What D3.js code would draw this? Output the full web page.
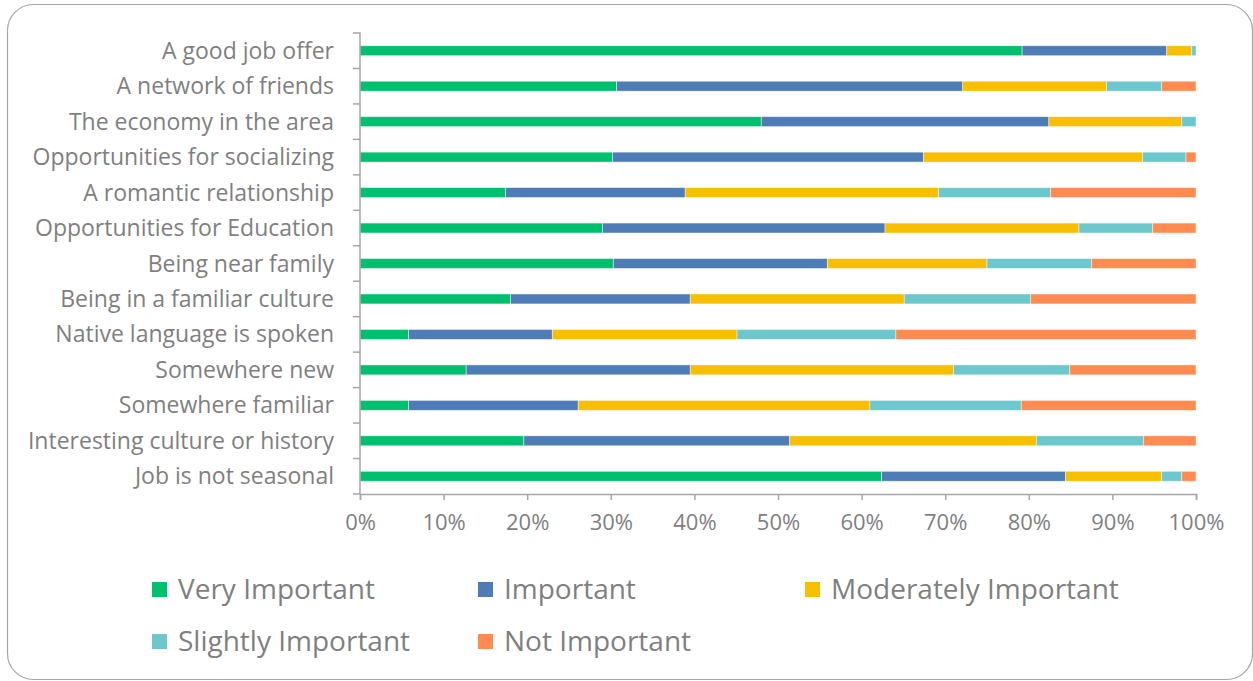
<!DOCTYPE html>
<html lang="en">
<head>
<meta charset="utf-8">
<title>Importance of factors</title>
<style>
  body { margin: 0; background: #fff; }
  text { font-family: "Open Sans", "Noto Sans", sans-serif; fill: #7f7f7f; }
</style>
</head>
<body>
<div id="chart"></div>
<script src="https://cdnjs.cloudflare.com/ajax/libs/d3/7.8.5/d3.min.js"></script>
<script>
// categories, top to bottom
var categories = ["A good job offer", "A network of friends", "The economy in the area",
                  "Opportunities for socializing", "A romantic relationship", "Opportunities for Education",
                  "Being near family", "Being in a familiar culture", "Native language is spoken",
                  "Somewhere new", "Somewhere familiar", "Interesting culture or history", "Job is not seasonal"];

var seriesNames = ["Very Important", "Important", "Moderately Important", "Slightly Important", "Not Important"];
var seriesColors = ["#00bf6f", "#4e7cb6", "#f8be00", "#6cc8cc", "#ff8b51"];

// percentages per category, same order as categories
var veryImportant     = [79.2, 30.7, 48.0, 30.2, 17.4, 29.0, 30.3, 18.0,  5.8, 12.7,  5.8, 19.6, 62.4];
var important         = [17.3, 41.4, 34.4, 37.2, 21.5, 33.8, 25.6, 21.5, 17.2, 26.8, 20.3, 31.8, 22.0];
var moderatelyImp     = [ 3.0, 17.2, 15.9, 26.2, 30.3, 23.2, 19.1, 25.6, 22.1, 31.5, 34.9, 29.5, 11.5];
var slightlyImportant = [ 0.5,  6.6,  1.7,  5.2, 13.4,  8.8, 12.5, 15.1, 19.0, 13.9, 18.1, 12.8,  2.4];
var notImportant      = [ 0.0,  4.1,  0.0,  1.2, 17.4,  5.2, 12.5, 19.8, 35.9, 15.1, 20.9,  6.3,  1.7];

var tickValues = [0, 0.1, 0.2, 0.3, 0.4, 0.5, 0.6, 0.7, 0.8, 0.9, 1.0];

var width = 1253, height = 681;
var plotLeft = 360, plotRight = 1196, plotTop = 33, plotBottom = 494;

var svg = d3.select("#chart").append("svg")
    .attr("width", width)
    .attr("height", height);

// outer frame
svg.append("rect")
    .attr("x", 7.5).attr("y", 4.5)
    .attr("width", 1245).attr("height", 675)
    .attr("rx", 26).attr("ry", 26)
    .attr("fill", "none")
    .attr("stroke", "#a6a6a6")
    .attr("stroke-width", 1.2);

var table = categories.map(function(c, i) {
    return { cat: c,
             "Very Important": veryImportant[i],
             "Important": important[i],
             "Moderately Important": moderatelyImp[i],
             "Slightly Important": slightlyImportant[i],
             "Not Important": notImportant[i] };
});

// normalise each row to 100%
var stack = d3.stack().keys(seriesNames).offset(d3.stackOffsetExpand);
var layers = stack(table);

var x = d3.scaleLinear().domain([0, 1]).range([plotLeft, plotRight]);
var y = d3.scaleBand().domain(categories).range([plotTop, plotBottom]).paddingInner(0.72).paddingOuter(0.36);
var color = d3.scaleOrdinal().domain(seriesNames).range(seriesColors);

svg.append("g").selectAll("g")
    .data(layers)
    .enter().append("g")
    .attr("fill", function(d) { return color(d.key); })
    .selectAll("rect")
    .data(function(d) { return d; })
    .enter().append("rect")
    .attr("x", function(d) { return x(d[0]); })
    .attr("y", function(d) { return y(d.data.cat); })
    .attr("width", function(d) { return Math.max(0, x(d[1]) - x(d[0])); })
    .attr("height", y.bandwidth())
    .attr("stroke", "#ffffff")
    .attr("stroke-opacity", 0.6)
    .attr("stroke-width", 0.75);

// y axis
var yAxisScale = d3.scaleBand().domain(categories).range([plotTop, plotBottom]);
var yAxis = svg.append("g")
    .attr("transform", "translate(" + plotLeft + ",0)")
    .call(d3.axisLeft(y).tickSize(0).tickPadding(26));
yAxis.select(".domain").attr("stroke", "#a6a6a6").attr("stroke-width", 1.5)
    .attr("d", "M-7," + plotTop + "H0V" + plotBottom + "H-7");
yAxis.selectAll("text")
    .attr("font-size", "23px")
    .attr("fill", "#7f7f7f")
    .attr("dy", "0.35em");
// category separators
svg.append("g").selectAll("line")
    .data(categories.slice(1))
    .enter().append("line")
    .attr("x1", plotLeft - 7).attr("x2", plotLeft)
    .attr("y1", function(d) { return yAxisScale(d); })
    .attr("y2", function(d) { return yAxisScale(d); })
    .attr("stroke", "#a6a6a6").attr("stroke-width", 1.5);

// x axis
var xAxis = svg.append("g")
    .attr("transform", "translate(0," + plotBottom + ")")
    .call(d3.axisBottom(x).tickValues(tickValues).tickFormat(d3.format(".0%")).tickSize(6).tickSizeOuter(6).tickPadding(14));
xAxis.select(".domain").attr("stroke", "#a6a6a6").attr("stroke-width", 1.5);
xAxis.selectAll(".tick line").attr("stroke", "#a6a6a6").attr("stroke-width", 1.5);
xAxis.selectAll("text")
    .attr("font-size", "22px")
    .attr("fill", "#7f7f7f");

// legend
var legendPos = [[152, 589], [478, 589], [805, 589], [152, 641], [478, 641]];
var legend = svg.append("g").selectAll("g")
    .data(seriesNames)
    .enter().append("g")
    .attr("transform", function(d, i) { return "translate(" + legendPos[i][0] + "," + legendPos[i][1] + ")"; });
legend.append("rect")
    .attr("x", 0).attr("y", -7)
    .attr("width", 15).attr("height", 15)
    .attr("fill", function(d) { return color(d); });
legend.append("text")
    .attr("x", 26).attr("dy", "0.35em")
    .attr("font-size", "28px")
    .text(function(d) { return d; });
</script>
</body>
</html>
